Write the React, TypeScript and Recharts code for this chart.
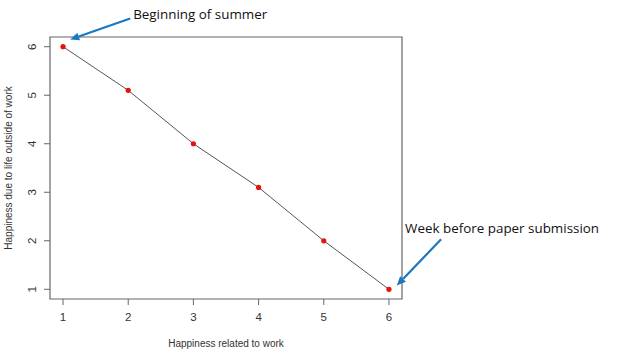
import { LineChart, Line, XAxis, YAxis, ReferenceArea, ReferenceLine } from "recharts";

// happiness scores
const workHappiness = [1, 2, 3, 4, 5, 6];
const lifeHappiness = [6, 5.1, 4, 3.1, 2, 1];
const xTicks = [1, 2, 3, 4, 5, 6];
const yTicks = [1, 2, 3, 4, 5, 6];

// callouts: arrow from -> to, in data units
const noteTexts = ["Beginning of summer", "Week before paper submission"];
const noteFrom = [
  [2.03, 6.58],
  [6.8, 2.03],
];
const noteTo = [
  [1.11, 6.15],
  [6.12, 1.08],
];

const data = workHappiness.map((x, i) => ({ x, y: lifeHappiness[i] }));

const noteOffsets = [
  { dx: 3, dy: 0 },
  { dx: -36, dy: -6 },
];

const BLUE = "#1a78c2";
const AXIS_FONT = "'Liberation Sans', Arial, sans-serif";

function Arrow(p: any) {
  const { x1, y1, x2, y2, text, dx, dy } = p;
  const a = Math.atan2(y2 - y1, x2 - x1);
  const len = 9;
  const w = 4;
  const bx = x2 - len * Math.cos(a);
  const by = y2 - len * Math.sin(a);
  const px = -Math.sin(a) * w;
  const py = Math.cos(a) * w;
  return (
    <g>
      <line x1={x1} y1={y1} x2={bx} y2={by} stroke={BLUE} strokeWidth={2.2} />
      <polygon points={`${x2},${y2} ${bx + px},${by + py} ${bx - px},${by - py}`} fill={BLUE} />
      <text x={x1 + dx} y={y1 + dy} fontFamily="'Open Sans', sans-serif" fontSize={13.4} fill="#111">
        {text}
      </text>
    </g>
  );
}

function YTick(p: any) {
  const { x, y, payload } = p;
  const tx = x - 10;
  return (
    <text
      x={tx}
      y={y}
      transform={`rotate(-90, ${tx}, ${y})`}
      textAnchor="middle"
      dominantBaseline="central"
      fontFamily={AXIS_FONT}
      fontSize={11.5}
      fill="#333"
    >
      {payload.value}
    </text>
  );
}

export default function App() {
  return (
    <div style={{ position: "absolute", left: 0, top: 0, background: "#fff" }}>
      <LineChart
        width={640}
        height={359}
        data={data}
        margin={{ top: 37, right: 238, bottom: 15, left: 10 }}
      >
        <XAxis
          type="number"
          dataKey="x"
          domain={[0.8, 6.2]}
          ticks={xTicks}
          allowDataOverflow
          height={45}
          axisLine={false}
          tickLine={{ stroke: "#666" }}
          tickSize={6}
          tickMargin={8}
          tick={{ fill: "#333", fontSize: 11.5, fontFamily: AXIS_FONT }}
          label={{
            value: "Happiness related to work",
            position: "insideBottom",
            offset: -3,
            fill: "#333",
            fontSize: 10,
            fontFamily: AXIS_FONT,
          }}
        />
        <YAxis
          type="number"
          dataKey="y"
          domain={[0.8, 6.2]}
          ticks={yTicks}
          allowDataOverflow
          width={40}
          axisLine={false}
          tickLine={{ stroke: "#666" }}
          tickSize={6}
          tickMargin={2}
          tick={<YTick />}
          label={{
            value: "Happiness due to life outside of work",
            angle: -90,
            position: "insideLeft",
            offset: -2,
            fill: "#333",
            fontSize: 10,
            fontFamily: AXIS_FONT,
            style: { textAnchor: "middle" },
          }}
        />
        <ReferenceArea
          x1={0.8}
          x2={6.2}
          y1={0.8}
          y2={6.2}
          fill="none"
          stroke="#666"
          strokeWidth={1.2}
          fillOpacity={0}
          ifOverflow="visible"
        />
        <Line
          dataKey="y"
          stroke="#555"
          strokeWidth={1}
          isAnimationActive={false}
          dot={{ r: 2.6, fill: "#e8120c", stroke: "none" }}
          activeDot={false}
        />
        {noteTexts.map((t, i) => (
          <ReferenceLine
            key={t}
            segment={[
              { x: noteFrom[i][0], y: noteFrom[i][1] },
              { x: noteTo[i][0], y: noteTo[i][1] },
            ]}
            ifOverflow="visible"
            shape={(p: any) => <Arrow {...p} text={t} dx={noteOffsets[i].dx} dy={noteOffsets[i].dy} />}
          />
        ))}
      </LineChart>
    </div>
  );
}
